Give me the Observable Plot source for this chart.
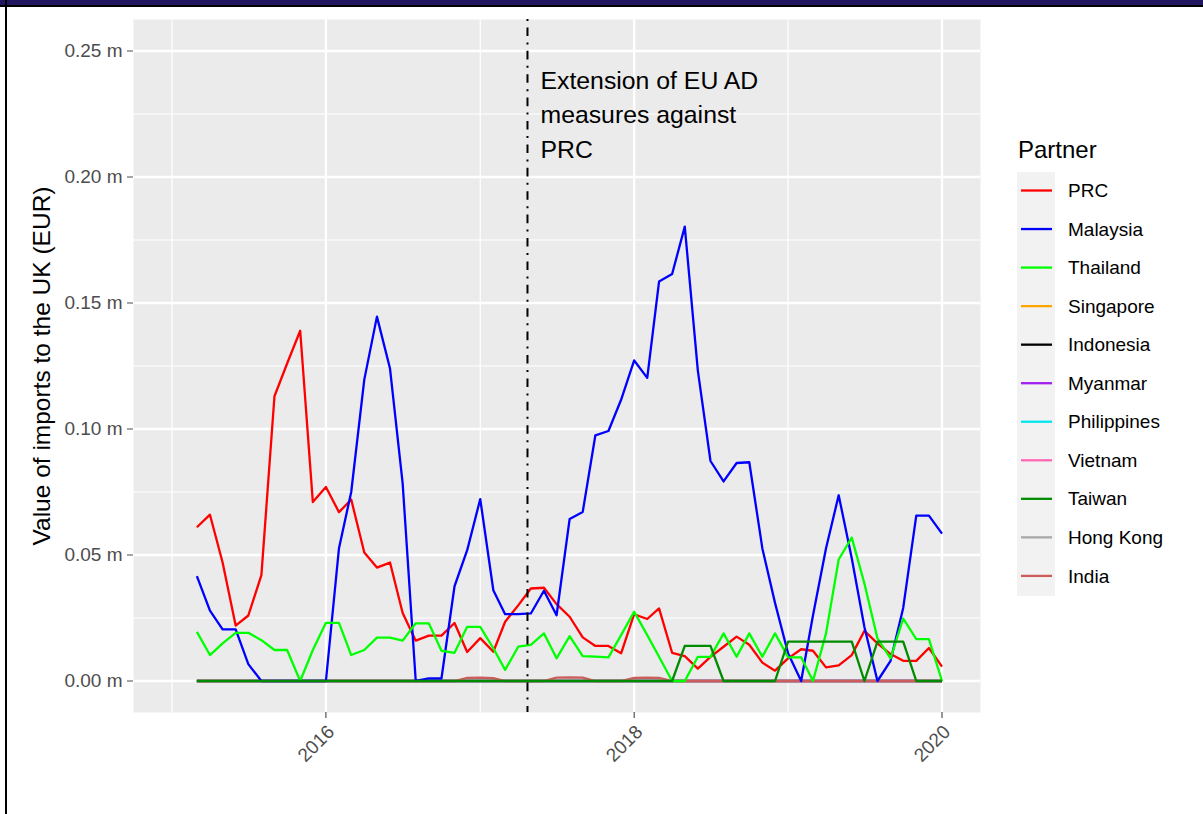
<!DOCTYPE html>
<html>
<head>
<meta charset="utf-8">
<script src="https://cdn.jsdelivr.net/npm/d3@7"></script>
<script src="https://cdn.jsdelivr.net/npm/@observablehq/plot@0.6"></script>
<style>
html,body{margin:0;padding:0;background:#fff;}
#wrap{position:relative;width:1203px;height:814px;overflow:hidden;background:#fff;}
#chart{position:absolute;left:0;top:0;}
#topbar{position:absolute;left:0;top:0;width:1203px;height:5px;background:#211761;border-bottom:2px solid #000;}
#leftbar{position:absolute;left:5px;top:0;width:2px;height:814px;background:#000;}
</style>
</head>
<body>
<div id="wrap"><div id="chart"></div><div id="topbar"></div><div id="leftbar"></div></div>
<script>
// ---- data ----
const partners = ["PRC","Malaysia","Thailand","Singapore","Indonesia","Myanmar","Philippines","Vietnam","Taiwan","Hong Kong","India"];
const partnerColors = ["#FF0000","#0000FF","#00FF00","#FFA500","#000000","#A020F0","#00E5EE","#FF69B4","#008B00","#A9A9A9","#CD5C5C"];
const firstMonth = "2015-03-01";
const lastMonth = "2020-01-01";

// monthly import values, million EUR (2015-03 .. 2020-01)
const prc = [0.061,0.066,0.047,0.022,0.026,0.042,0.113,0.126,0.139,0.071,
  0.077,0.067,0.072,0.051,0.045,0.047,0.027,0.016,0.018,0.018,
  0.023,0.0115,0.017,0.0116,0.0235,0.030,0.0367,0.037,0.0305,0.0255,
  0.0173,0.0139,0.0139,0.011,0.0265,0.0246,0.0288,0.0112,0.0099,0.0049,
  0.0096,0.0136,0.0176,0.0144,0.0073,0.0041,0.009,0.0126,0.012,0.0054,
  0.0062,0.0103,0.0199,0.0149,0.0107,0.008,0.008,0.0131,0.0057];
const malaysia = [0.0416,0.0279,0.0205,0.0205,0.0067,0,0,0,0,0,
  0,0.0527,0.075,0.1196,0.1446,0.124,0.0784,0,0.001,0.001,
  0.0376,0.0519,0.0722,0.036,0.0265,0.0265,0.0268,0.0358,0.0261,0.0643,
  0.0671,0.0975,0.0992,0.1116,0.1272,0.1203,0.1585,0.1615,0.1803,0.1232,
  0.0873,0.0792,0.0865,0.0868,0.0526,0.031,0.011,0,0.026,0.0527,
  0.0737,0.0487,0.0214,0,0.008,0.029,0.0656,0.0656,0.0585];
const thailand = [0.0195,0.0103,0.0149,0.0191,0.0191,0.0162,0.0123,0.0123,0,0.0123,
  0.0231,0.0231,0.0103,0.0123,0.0172,0.0172,0.016,0.0229,0.0229,0.012,
  0.0112,0.0215,0.0215,0.013,0.0044,0.0136,0.0143,0.0189,0.009,0.0178,
  0.0099,0.0097,0.0094,0.0182,0.0275,0.0182,0.0096,0,0,0.0096,
  0.0096,0.0189,0.0096,0.0189,0.0096,0.0189,0.0094,0.0094,0,0.0189,
  0.0482,0.0569,0.0387,0.0169,0.009,0.0248,0.0166,0.0166,0];
const singapore = [0,0,0,0,0,0,0,0,0,0, 0,0,0,0,0,0,0,0,0,0, 0,0,0,0,0,0,0,0,0,0,
  0,0,0,0,0,0,0,0,0,0, 0,0,0,0,0,0,0,0,0,0, 0,0,0,0,0,0,0,0,0];
const indonesia = [0,0,0,0,0,0,0,0,0,0, 0,0,0,0,0,0,0,0,0,0, 0,0,0,0,0,0,0,0,0,0,
  0,0,0,0,0,0,0,0,0,0, 0,0,0,0,0,0,0,0,0,0, 0,0,0,0,0,0,0,0,0];
const myanmar = [0,0,0,0,0,0,0,0,0,0, 0,0,0,0,0,0,0,0,0,0, 0,0,0,0,0,0,0,0,0,0,
  0,0,0,0,0,0,0,0,0,0, 0,0,0,0,0,0,0,0,0,0, 0,0,0,0,0,0,0,0,0];
const philippines = [0,0,0,0,0,0,0,0,0,0, 0,0,0,0,0,0,0,0,0,0, 0,0,0,0,0,0,0,0,0,0,
  0,0,0,0,0,0,0,0,0,0, 0,0,0,0,0,0,0,0,0,0, 0,0,0,0,0,0,0,0,0];
const vietnam = [0,0,0,0,0,0,0,0,0,0, 0,0,0,0,0,0,0,0,0,0, 0,0,0,0,0,0,0,0,0,0,
  0,0,0,0,0,0,0,0,0,0, 0,0,0,0,0,0,0,0,0,0, 0,0,0,0,0,0,0,0,0];
const taiwan = [0,0,0,0,0,0,0,0,0,0, 0,0,0,0,0,0,0,0,0,0, 0,0,0,0,0,0,0,0,0,0,
  0,0,0,0,0,0,0,0,0.0139,0.0139, 0.0139,0,0,0,0,0,0.0156,0.0156,0.0156,0.0156,
  0.0156,0.0156,0,0.0156,0.0156,0.0156,0,0,0];
const hongKong = [0,0,0,0,0,0,0,0,0,0, 0,0,0,0,0,0,0,0,0,0, 0,0,0,0,0,0,0,0,0,0,
  0,0,0,0,0,0,0,0,0,0, 0,0,0,0,0,0,0,0,0,0, 0,0,0,0,0,0,0,0,0];
const india = [0,0,0,0,0,0,0,0,0,0, 0,0,0,0,0,0,0,0,0,0, 0,0.0012,0.0013,0.0011,0,0,0,0,0.0013,0.0014,
  0.0013,0,0,0,0.0012,0.0013,0.0012,0,0,0, 0,0,0,0,0,0,0,0,0,0, 0,0,0,0,0,0,0,0,0];

const yTicks = [0, 0.05, 0.10, 0.15, 0.20, 0.25];
const yMinorTicks = [0.025, 0.075, 0.125, 0.175, 0.225];
const xTickYears = ["2016-01-01","2018-01-01","2020-01-01"];
const xMinorYears = ["2015-01-01","2017-01-01","2019-01-01"];
const xLimits = ["2015-01-01","2020-01-01"];
const measureDate = "2017-04-23";
const annotation = "Extension of EU AD\nmeasures against\nPRC";
const yTitle = "Value of imports to the UK (EUR)";
const legendTitle = "Partner";

// ---- build table ----
const seriesValues = {
  "PRC": prc, "Malaysia": malaysia, "Thailand": thailand, "Singapore": singapore,
  "Indonesia": indonesia, "Myanmar": myanmar, "Philippines": philippines, "Vietnam": vietnam,
  "Taiwan": taiwan, "Hong Kong": hongKong, "India": india
};
const months = d3.utcMonth.range(new Date(firstMonth), d3.utcMonth.offset(new Date(lastMonth), 1));
const rows = partners.flatMap(p => months.map((d, i) => ({date: d, partner: p, value: seriesValues[p][i]})));
const drawOrder = ["Singapore","Indonesia","Myanmar","Philippines","Vietnam","Hong Kong","India","PRC","Malaysia","Thailand","Taiwan"];

const lim0 = new Date(xLimits[0]), lim1 = new Date(xLimits[1]);
const pad = (lim1 - lim0) * 0.05;
const xDomain = [new Date(+lim0 - pad), new Date(+lim1 + pad)];
const xTicks = xTickYears.map(d => new Date(d));
const xMinor = xMinorYears.map(d => new Date(d));
const adDate = new Date(measureDate);

const FONT = "'Liberation Sans', Arial, Helvetica, sans-serif";

const chart = Plot.plot({
  width: 1203, height: 814,
  marginLeft: 133, marginRight: 223, marginTop: 19, marginBottom: 102,
  x: {type: "utc", domain: xDomain},
  y: {domain: [-0.0125, 0.2625]},
  color: {domain: partners, range: partnerColors},
  style: {fontFamily: FONT, fontSize: "19px", background: "transparent", overflow: "visible"},
  marks: [
    Plot.frame({fill: "#EBEBEB", stroke: "none"}),
    Plot.ruleY(yMinorTicks, {stroke: "#FFFFFF", strokeWidth: 1.2}),
    Plot.ruleX(xMinor, {stroke: "#FFFFFF", strokeWidth: 1.2}),
    Plot.ruleY(yTicks, {stroke: "#FFFFFF", strokeWidth: 2.3}),
    Plot.ruleX(xTicks, {stroke: "#FFFFFF", strokeWidth: 2.3}),
    ...drawOrder.map(p => Plot.line(rows.filter(r => r.partner === p),
      {x: "date", y: "value", stroke: "partner", strokeWidth: 2.3, strokeLinecap: "butt", strokeLinejoin: "round"})),
    Plot.ruleX([adDate], {stroke: "#000", strokeWidth: 2, strokeDasharray: "2,6.4,8.6,6.4"}),
    Plot.text([annotation], {x: adDate, y: 0.2257, text: d => d, dx: 13, textAnchor: "start",
      lineAnchor: "middle", lineHeight: 1.4, fontSize: 24.8, fill: "#000"}),
    Plot.axisY({ticks: yTicks, tickFormat: d => d.toFixed(2) + " m", tickSize: 6, tickPadding: 5,
      fontSize: 19, color: "#4D4D4D", label: null}),
    Plot.axisX({ticks: xTicks, tickSize: 6, tickFormat: () => "", label: null, color: "#333333"}),
    Plot.text(xTicks, {x: d => d, frameAnchor: "bottom", dy: 11, rotate: -45, textAnchor: "end",
      lineAnchor: "top", text: d => String(d.getUTCFullYear()), fontSize: 19, fill: "#4D4D4D"}),
    Plot.text([yTitle], {frameAnchor: "left", dx: -91, rotate: -90, text: d => d, fontSize: 24.5,
      fill: "#000", lineAnchor: "middle", textAnchor: "middle"})
  ]
});

document.getElementById("chart").appendChild(chart);

// ---- legend ----
const svg = d3.select(chart);
const lg = svg.append("g").attr("font-family", FONT).attr("text-anchor", "start");
lg.append("text").attr("x", 1018).attr("y", 158).attr("font-size", 24).attr("fill", "#000")
  .attr("text-anchor", "start").text(legendTitle);
lg.append("rect").attr("x", 1017).attr("y", 172).attr("width", 38).attr("height", 424).attr("fill", "#F2F2F2");
partners.forEach((p, i) => {
  const yy = 190.5 + i * 38.54;
  lg.append("line").attr("x1", 1021).attr("x2", 1052).attr("y1", yy).attr("y2", yy)
    .attr("stroke", partnerColors[i]).attr("stroke-width", 2.3);
  lg.append("text").attr("x", 1068).attr("y", yy).attr("dy", "0.35em").attr("font-size", 19)
    .attr("text-anchor", "start").attr("fill", "#000").text(p);
});
</script>
</body>
</html>
